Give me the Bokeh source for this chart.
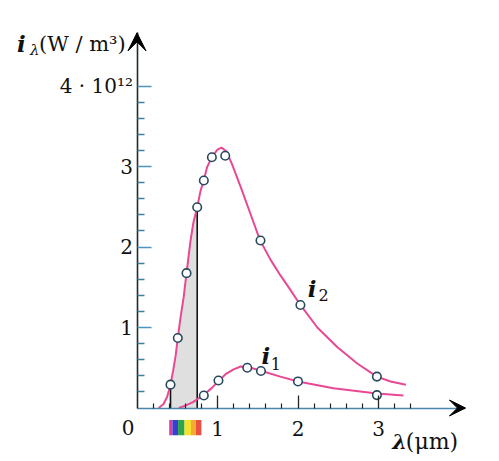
from bokeh.plotting import figure
from bokeh.models import (FixedTicker, Arrow, VeeHead, Label, BoxAnnotation, Range1d)
from bokeh.embed import file_html
from bokeh.resources import INLINE

# ---- data (wavelength in micrometres, intensity in 1e12 W/m^3)
i2_wavelength = [0.416, 0.507, 0.615, 0.748, 0.83, 0.93, 1.096, 1.534, 2.03, 2.98]
i2_intensity = [0.29, 0.87, 1.675, 2.494, 2.826, 3.115, 3.133, 2.081, 1.28, 0.39]

i1_wavelength = [0.83, 1.012, 1.37, 1.54, 2.00, 2.98]
i1_intensity = [0.155, 0.342, 0.50, 0.46, 0.33, 0.16]

i2_curve_x = [0.27, 0.33, 0.375, 0.416, 0.45, 0.48, 0.507, 0.54, 0.58, 0.615, 0.665,
              0.70, 0.748, 0.79, 0.83, 0.87, 0.93, 1.00, 1.05, 1.11, 1.18, 1.29, 1.41,
              1.53, 1.66, 1.78, 1.87, 2.03, 2.24, 2.49, 2.74, 2.98, 3.15, 3.34]
i2_curve_y = [0.0, 0.05, 0.14, 0.29, 0.47, 0.65, 0.87, 1.12, 1.38, 1.675, 2.08,
              2.30, 2.494, 2.70, 2.83, 2.99, 3.12, 3.21, 3.235, 3.19, 3.03, 2.74, 2.41,
              2.08, 1.84, 1.65, 1.52, 1.28, 1.00, 0.755, 0.55, 0.39, 0.33, 0.29]

i1_curve_x = [0.52, 0.60, 0.69, 0.82, 0.93, 1.02, 1.10, 1.20, 1.29, 1.38, 1.53,
              1.78, 2.00, 2.44, 2.98, 3.31]
i1_curve_y = [0.0, 0.03, 0.07, 0.155, 0.25, 0.34, 0.42, 0.48, 0.515, 0.51, 0.466,
              0.39, 0.33, 0.245, 0.18, 0.155]

x_major_ticks = [1, 2, 3]
x_minor_ticks = [0.2, 0.4, 0.6, 0.8, 1.2, 1.4, 1.6, 1.8, 2.2, 2.4, 2.6, 2.8, 3.2, 3.4]
y_major_ticks = [1, 2, 3, 4]
y_minor_ticks = [0.2, 0.4, 0.6, 0.8, 1.2, 1.4, 1.6, 1.8, 2.2, 2.4, 2.6, 2.8,
                 3.2, 3.4, 3.6, 3.8]
y_tick_labels = {4: "4 · 10¹²"}
x_axis_end = 4.08
y_axis_end = 4.66

spectrum_edges = [0.40, 0.44, 0.51, 0.59, 0.67, 0.73, 0.80]
spectrum_colors = ["#e0309a", "#2a36d0", "#22a040", "#f2e020", "#f5a524", "#e8483a"]

SCALE = 80.5          # px per unit (both axes)
OX, OY = 136.5, 407.5  # origin position in px
FONT = "DejaVu Serif"
PINK = "#ea4893"

W, H = 495, 458

p = figure(width=W, height=H, output_backend="svg", toolbar_location=None,
           x_range=Range1d(-OX / SCALE, (W - OX) / SCALE),
           y_range=Range1d((OY - H) / SCALE, OY / SCALE),
           min_border=0)
p.outline_line_color = None
p.grid.visible = False
p.background_fill_color = "white"

# axes (crossing at the origin)
xa = p.xaxis[0]
xa.fixed_location = 0
xa.bounds = (0, x_axis_end)
xa.ticker = FixedTicker(ticks=x_major_ticks, minor_ticks=x_minor_ticks)
xa.major_tick_in = 13
xa.major_tick_out = 0
xa.minor_tick_in = 5
xa.minor_tick_out = 0
xa.major_tick_line_color = "#222222"
xa.minor_tick_line_color = "#222222"
xa.major_tick_line_width = 1.3
xa.minor_tick_line_width = 1.2
xa.axis_line_color = "#4a86ad"
xa.axis_line_width = 1.6
xa.major_label_text_font = FONT
xa.major_label_text_font_size = "20px"
xa.major_label_text_color = "#111111"
xa.major_label_standoff = 13

ya = p.yaxis[0]
ya.fixed_location = 0
ya.bounds = (0, y_axis_end)
ya.ticker = FixedTicker(ticks=y_major_ticks, minor_ticks=y_minor_ticks)
ya.major_tick_in = 14
ya.major_tick_out = 0
ya.minor_tick_in = 7
ya.minor_tick_out = 0
ya.major_tick_line_color = "#4f93bf"
ya.minor_tick_line_color = "#3f7f9f"
ya.major_tick_line_width = 1.6
ya.minor_tick_line_width = 1.4
ya.axis_line_color = "#1e2b28"
ya.axis_line_width = 1.6
ya.major_label_text_font = FONT
ya.major_label_text_font_size = "20px"
ya.major_label_text_color = "#111111"
ya.major_label_standoff = 4
ya.major_label_overrides = y_tick_labels

# shaded visible-light band under i2
lo, hi = i2_wavelength[0], i2_wavelength[3]
band_x = [x for x in i2_curve_x if lo <= x <= hi]
band_y = [y for x, y in zip(i2_curve_x, i2_curve_y) if lo <= x <= hi]
p.varea(x=band_x, y1=[0] * len(band_x), y2=band_y, fill_color="#dcdcdc", fill_alpha=0.9)
p.segment(x0=[lo, hi], y0=[0, 0], x1=[lo, hi], y1=[i2_intensity[0], i2_intensity[3]],
          line_color="#111111", line_width=1.6)

# curves
p.line(i2_curve_x, i2_curve_y, line_color=PINK, line_width=2)
p.line(i1_curve_x, i1_curve_y, line_color=PINK, line_width=2)

# measured points
p.scatter(i2_wavelength, i2_intensity, size=8.5, fill_color="white",
          line_color="#28485e", line_width=1.6)
p.scatter(i1_wavelength, i1_intensity, size=8.5, fill_color="white",
          line_color="#28485e", line_width=1.6)

# spectrum strip under the axis
for a, b, c in zip(spectrum_edges[:-1], spectrum_edges[1:], spectrum_colors):
    p.add_layout(BoxAnnotation(left=a, right=b, bottom=-0.34, top=-0.15,
                               fill_color=c, fill_alpha=0.95, line_alpha=0))

# arrows
p.add_layout(Arrow(end=VeeHead(size=18, fill_color="black", line_color="black"),
                   x_start=0, y_start=y_axis_end - 0.4, x_end=0, y_end=y_axis_end,
                   line_alpha=0))
p.add_layout(Arrow(end=VeeHead(size=16, fill_color="black", line_color="black"),
                   x_start=x_axis_end - 0.4, y_start=0, x_end=x_axis_end, y_end=0,
                   line_alpha=0))

LIFT = 0.085  # labels render a little low; raise baselines

def lab(x, y, text, size, style="normal", align="left"):
    p.add_layout(Label(x=x, y=y + LIFT, text=text, text_font=FONT, text_font_size=size,
                       text_font_style=style, text_align=align,
                       text_baseline="alphabetic", text_color="#111111"))

# origin label
lab(-0.11, -0.33, "0", "20px", align="center")
# y title
lab(-1.49, 4.44, "i", "23px", "bold italic")
lab(-1.33, 4.36, "λ", "15px", "italic")
lab(-0.14, 4.44, "(W / m³)", "21px", align="right")
# x title
lab(3.17, -0.50, "λ", "21px", "bold italic")
lab(3.34, -0.50, "(μm)", "22px")
# curve labels
lab(2.12, 1.40, "i", "23px", "bold italic")
lab(2.255, 1.32, "2", "16px")
lab(1.547, 0.571, "i", "23px", "bold italic")
lab(1.66, 0.466, "1", "16px")

open("out.html", "w").write(file_html(p, INLINE))
